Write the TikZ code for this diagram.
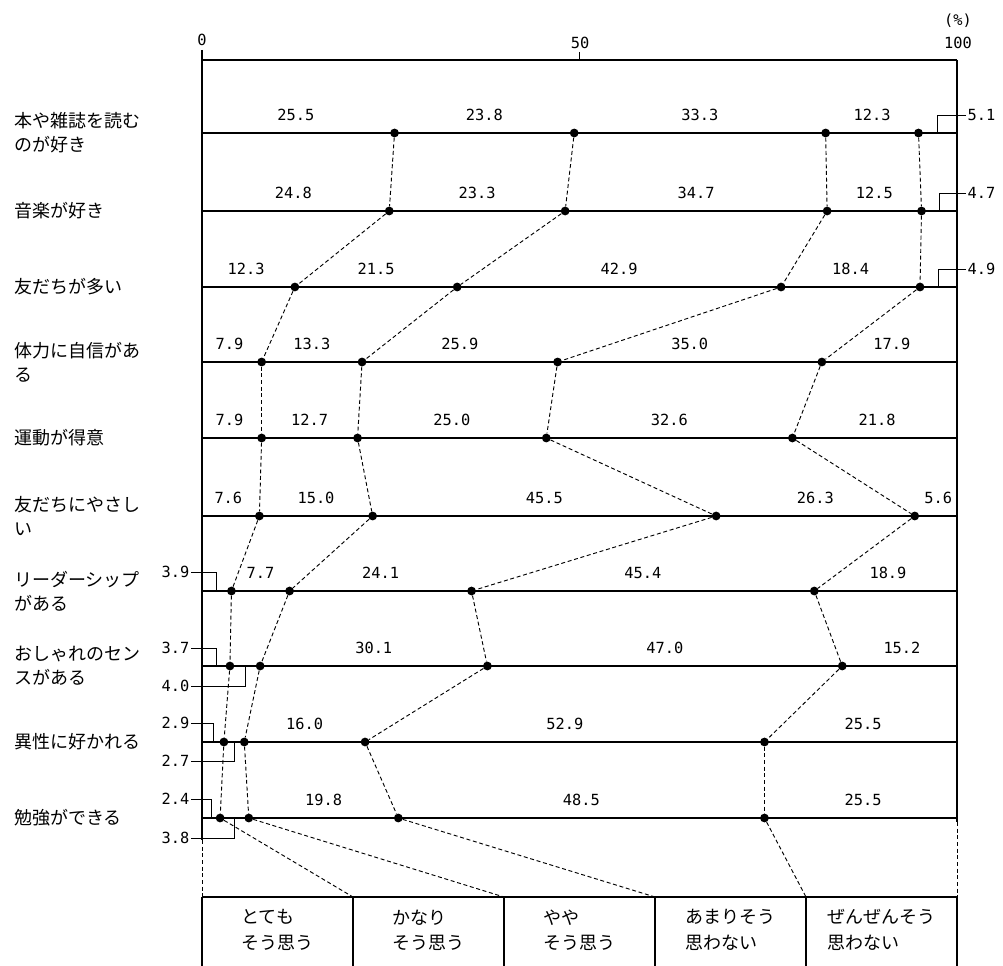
\documentclass[tikz,border=0pt]{standalone}
\usepackage{fontspec}
\setmainfont{Noto Sans CJK JP}
\newfontfamily\numfont{DejaVu Sans Mono}
\usepackage{tikz}
\usetikzlibrary{calc}
\usetikzlibrary{positioning}

\begin{document}
\begin{tikzpicture}[x=0.75pt,y=-0.75pt,line cap=butt,
		dot/.style={circle,fill,inner sep=0pt,minimum size=6.6pt},
		val/.style={font=\numfont\fontsize{11.5}{12}\selectfont,inner sep=1pt},
		above val/.style={val,yshift=13.5pt},
		item/.style={font=\fontsize{13.5}{18}\selectfont,align=left,anchor=west,inner sep=0pt},
		key/.style={font=\fontsize{13.5}{19}\selectfont,align=left,inner sep=0pt},
		bar/.style={line width=1pt},
		thin/.style={line width=0.6pt},
		link/.style={line width=0.7pt,dash pattern=on 3pt off 2pt}]
		\useasboundingbox (0,0) rectangle (1003,966);
		
		% scale
		\coordinate (z0) at (202,50);
		\coordinate (o) at (202,60);
		\coordinate (h) at (957,60);
		\coordinate (z1) at (202,840);
		\coordinate (z2) at (957,822);
		\coordinate (t50) at (579,52);
		\coordinate (u50) at (579,60);
		\draw[bar] (o) -- (h);
		\draw[bar] (z0) -- (z1);
		\draw[bar] (h) -- (z2);
		\draw[thin] (t50) -- (u50);
		\node[val] (n0) at (202,40) {0};
		\node[val] (n50) at (580,43) {50};
		\node[val] (n100) at (958,43) {100};
		\node[val] (pc) at (958,21) {(\%)};
		
		% one line per item, dots at the cumulative shares
		\foreach \r/\y/\a/\b/\c/\d/\txt in {
			1/133/25.5/49.3/82.6/94.9/{本や雑誌を読む\\のが好き},
			2/211/24.8/48.1/82.8/95.3/{音楽が好き},
			3/287/12.3/33.8/76.7/95.1/{友だちが多い},
			4/362/7.9/21.2/47.1/82.1/{体力に自信があ\\る},
			5/438/7.9/20.6/45.6/78.2/{運動が得意},
			6/516/7.6/22.6/68.1/94.4/{友だちにやさし\\い},
			7/591/3.9/11.6/35.7/81.1/{リーダーシップ\\がある},
			8/666/3.7/7.7/37.8/84.8/{おしゃれのセン\\スがある},
			9/742/2.9/5.6/21.6/74.5/{異性に好かれる},
			10/818/2.4/6.2/26.0/74.5/{勉強ができる}}
		{
			\coordinate (l\r) at (202,\y);
			\coordinate (e\r) at (957,\y);
			\draw[bar] (l\r) -- (e\r);
			\node[item] (i\r) at (14,\y) {\txt};
			\foreach \k/\v in {1/\a,2/\b,3/\c,4/\d}
			\node[dot] (p\r-\k) at ({202+7.55*\v},\y) {};
		}
		
		% shares written over each part
		\foreach \r/\va/\vb/\vc/\vd/\ve in {
			1/25.5/23.8/33.3/12.3/{},
			2/24.8/23.3/34.7/12.5/{},
			3/12.3/21.5/42.9/18.4/{},
			4/7.9/13.3/25.9/35.0/17.9,
			5/7.9/12.7/25.0/32.6/21.8,
			6/7.6/15.0/45.5/26.3/5.6,
			7/{}/7.7/24.1/45.4/18.9,
			8/{}/{}/30.1/47.0/15.2,
			9/{}/{}/16.0/52.9/25.5,
			10/{}/{}/19.8/48.5/25.5}
		{
			\path (l\r) -- (p\r-1) node[above val,midway] {\va};
			\path (p\r-1) -- (p\r-2) node[above val,midway] {\vb};
			\path (p\r-2) -- (p\r-3) node[above val,midway] {\vc};
			\path (p\r-3) -- (p\r-4) node[above val,midway] {\vd};
			\path (p\r-4) -- (e\r) node[above val,midway] {\ve};
		}
		
		% small shares with a bracket
		\node[val,anchor=west] (s1) at (966,115) {5.1};
		\node[val,anchor=west] (s2) at (966,193) {4.7};
		\node[val,anchor=west] (s3) at (966,269) {4.9};
		\draw[thin] (s1.west) -| ($(p1-4)!0.5!(e1)$);
		\draw[thin] (s2.west) -| ($(p2-4)!0.5!(e2)$);
		\draw[thin] (s3.west) -| ($(p3-4)!0.5!(e3)$);
		
		\node[val,anchor=east] (s7) at (191,572) {3.9};
		\node[val,anchor=east] (s8) at (191,648) {3.7};
		\node[val,anchor=east] (s8b) at (191,686) {4.0};
		\node[val,anchor=east] (s9) at (191,723) {2.9};
		\node[val,anchor=east] (s9b) at (191,761) {2.7};
		\node[val,anchor=east] (s10) at (191,799) {2.4};
		\node[val,anchor=east] (s10b) at (191,838) {3.8};
		\draw[thin] (s7.east) -| ($(l7)!0.5!(p7-1)$);
		\draw[thin] (s8.east) -| ($(l8)!0.5!(p8-1)$);
		\draw[thin] (s8b.east) -| ($(p8-1)!0.5!(p8-2)$);
		\draw[thin] (s9.east) -| ($(l9)!0.5!(p9-1)$);
		\draw[thin] (s9b.east) -| ($(p9-1)!0.5!(p9-2)$);
		\draw[thin] (s10.east) -| ($(l10)!0.5!(p10-1)$);
		\draw[thin] (s10b.east) -| ($(p10-1)!0.5!(p10-2)$);
		
		% dashed links between the rows
		\foreach \r [evaluate=\r as \s using int(\r+1)] in {1,...,9}
		\foreach \k in {1,...,4}
		\draw[link] (p\r-\k) -- (p\s-\k);
		
		% key
		\foreach \i/\x in {0/202,1/353,2/504,3/655,4/806,5/957}
		{
			\coordinate (k\i) at (\x,897);
			\coordinate (m\i) at (\x,966);
			\draw[bar] (k\i) -- (m\i);
		}
		\draw[bar] (k0) -- (k5);
		\draw[link] (z1) -- (k0);
		\draw[link] (z2) -- (k5);
		\foreach \k in {1,...,4}
		\draw[link] (p10-\k) -- (k\k);
		
		\node[key] (c1) at (277.5,930) {とても\\そう思う};
		\node[key] (c2) at (428.5,930) {かなり\\そう思う};
		\node[key] (c3) at (579.5,930) {やや\\そう思う};
		\node[key] (c4) at (730.5,930) {あまりそう\\思わない};
		\node[key] (c5) at (881.5,930) {ぜんぜんそう\\思わない};
\end{tikzpicture}
\end{document}
